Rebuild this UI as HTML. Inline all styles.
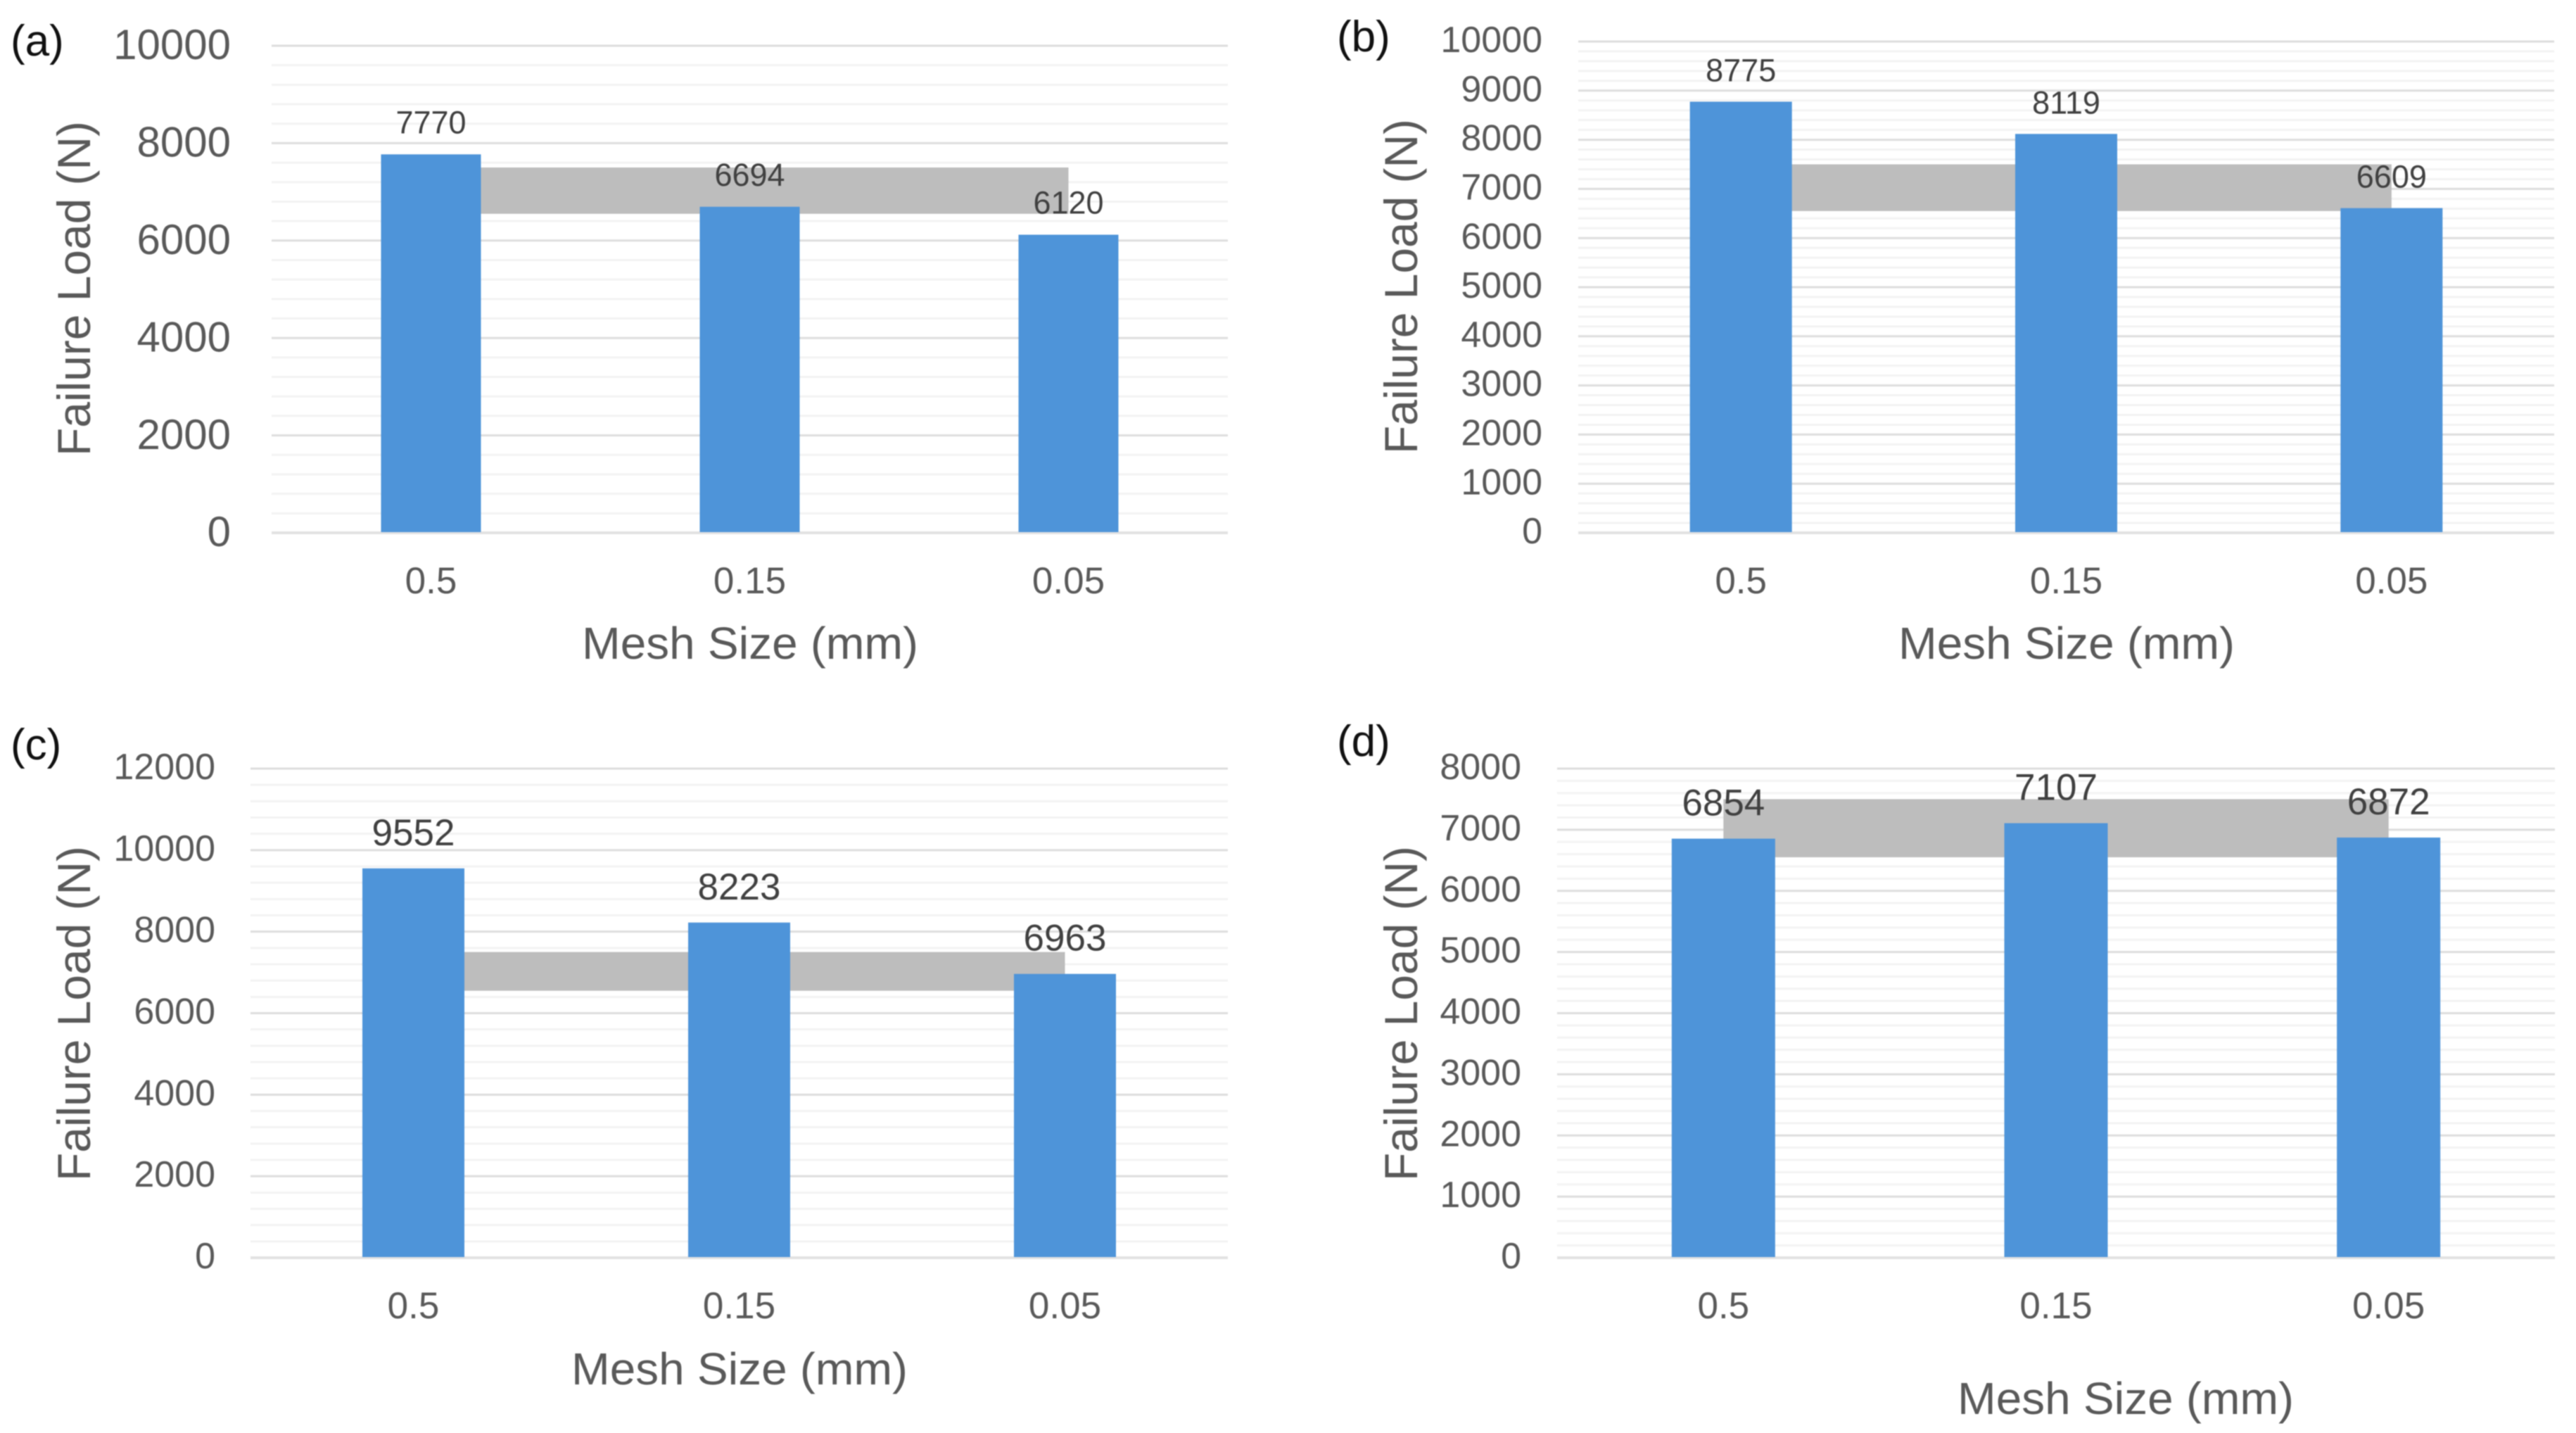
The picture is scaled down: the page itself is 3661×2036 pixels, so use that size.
<!DOCTYPE html>
<html lang="en">
<head>
<meta charset="utf-8">
<title>Failure Load vs Mesh Size</title>
<style>
  html, body { margin: 0; padding: 0; background: #ffffff; }
  #figure { display: block; width: 3661px; height: 2036px; filter: blur(0.7px); }
  text { font-family: "Liberation Sans", Arial, sans-serif; }
</style>
</head>
<body>
<svg id="figure" xmlns="http://www.w3.org/2000/svg" width="3661" height="2036" viewBox="0 0 3661 2036"></svg>
<script>
// ---- Data ----
const categories = ['0.5', '0.15', '0.05'];
const failureLoadA = [7770, 6694, 6120];
const failureLoadB = [8775, 8119, 6609];
const failureLoadC = [9552, 8223, 6963];
const failureLoadD = [6854, 7107, 6872];
const tickLabelsA = ['0', '2000', '4000', '6000', '8000', '10000'];
const tickLabelsB = ['0', '1000', '2000', '3000', '4000', '5000', '6000', '7000', '8000', '9000', '10000'];
const tickLabelsC = ['0', '2000', '4000', '6000', '8000', '10000', '12000'];
const tickLabelsD = ['0', '1000', '2000', '3000', '4000', '5000', '6000', '7000', '8000'];
const referenceBand = [6550, 7500];
const minorDivisions = 5;
const xAxisTitle = 'Mesh Size (mm)';
const yAxisTitle = 'Failure Load (N)';

// ---- Layout (no data here) ----
const panels = [
  { id: 'a', letter: '(a)', values: failureLoadA, ticks: tickLabelsA,
    left: 386, right: 1745, top: 65, bottom: 757, barWidth: 142,
    tickRight: 328, tickSize: 60, tickShift: 0.32, catSize: 53, catBase: 843, valueSize: 45, valueGap: 30,
    letterX: 15, letterY: 79, xTitleX: 1066, xTitleY: 936, yTitleX: 128, yTitleY: 410 },
  { id: 'b', letter: '(b)', values: failureLoadB, ticks: tickLabelsB,
    left: 2243, right: 3630, top: 59, bottom: 757, barWidth: 145,
    tickRight: 2192, tickSize: 52, tickShift: 0.29, catSize: 53, catBase: 843, valueSize: 45, valueGap: 29,
    letterX: 1900, letterY: 73, xTitleX: 2937, xTitleY: 936, yTitleX: 2014, yTitleY: 407 },
  { id: 'c', letter: '(c)', values: failureLoadC, ticks: tickLabelsC,
    left: 356, right: 1745, top: 1092, bottom: 1787, barWidth: 145,
    tickRight: 306, tickSize: 52, tickShift: 0.29, catSize: 53, catBase: 1873, valueSize: 53, valueGap: 33,
    letterX: 15, letterY: 1079, xTitleX: 1051, xTitleY: 1967, yTitleX: 128, yTitleY: 1440 },
  { id: 'd', letter: '(d)', values: failureLoadD, ticks: tickLabelsD,
    left: 2213, right: 3631, top: 1092, bottom: 1787, barWidth: 147,
    tickRight: 2162, tickSize: 52, tickShift: 0.29, catSize: 53, catBase: 1873, valueSize: 53, valueGap: 33,
    letterX: 1900, letterY: 1074, xTitleX: 3021, xTitleY: 2009, yTitleX: 2014, yTitleY: 1440 }
];

const SVG_NS = 'http://www.w3.org/2000/svg';
const root = document.getElementById('figure');

function make(tag, parent, attrs, content) {
  const node = document.createElementNS(SVG_NS, tag);
  for (const key in attrs) node.setAttribute(key, attrs[key]);
  if (content !== undefined) node.textContent = content;
  parent.appendChild(node);
  return node;
}

panels.forEach(function (p) {
  const tickValues = p.ticks.map(Number);
  const maxValue = tickValues[tickValues.length - 1];
  const yScale = function (v) { return p.bottom - (v / maxValue) * (p.bottom - p.top); };
  const band = (p.right - p.left) / categories.length;
  const xScale = function (i) { return p.left + band * (i + 0.5); };

  const group = make('g', root, {});
  
  

  // Minor gridlines
  for (let t = 0; t < tickValues.length - 1; t++) {
    for (let m = 1; m < minorDivisions; m++) {
      const v = tickValues[t] + (tickValues[t + 1] - tickValues[t]) * m / minorDivisions;
      const minor = make('line', group, { x1: p.left, x2: p.right, y1: yScale(v), y2: yScale(v), stroke: '#f3f3f3', 'stroke-width': 3 });
      
      
    }
  }

  // Major gridlines and y tick labels
  tickValues.forEach(function (v, i) {
    const y = yScale(v);
    const major = make('line', group, { x1: p.left, x2: p.right, y1: y, y2: y, stroke: v === 0 ? '#e2e2e2' : '#dddddd', 'stroke-width': v === 0 ? 4 : 3 });
    
    
    const tick = make('text', group, { x: p.tickRight, y: y + p.tickSize * p.tickShift, 'text-anchor': 'end', 'font-size': p.tickSize, fill: '#595959' }, p.ticks[i]);
    
    
  });

  // Reference band spanning first to last category centre
  const bandRect = make('rect', group, {
    x: xScale(0),
    y: yScale(referenceBand[1]),
    width: xScale(categories.length - 1) - xScale(0),
    height: yScale(referenceBand[0]) - yScale(referenceBand[1]),
    fill: '#bdbdbd'
  });
  
  

  // Bars
  p.values.forEach(function (v, i) {
    const bar = make('rect', group, {
      x: xScale(i) - p.barWidth / 2,
      y: yScale(v),
      width: p.barWidth,
      height: p.bottom - yScale(v) - 1,
      fill: '#4e94d9'
    });
    
    
  });

  // Data labels and category labels
  p.values.forEach(function (v, i) {
    const label = make('text', group, { x: xScale(i), y: yScale(v) - p.valueGap, 'text-anchor': 'middle', 'font-size': p.valueSize, fill: '#404040' }, String(v));
    
    
    const cat = make('text', group, { x: xScale(i), y: p.catBase, 'text-anchor': 'middle', 'font-size': p.catSize, fill: '#595959' }, categories[i]);
    
    
  });

  // Axis titles
  const xTitle = make('text', group, { x: p.xTitleX, y: p.xTitleY, 'text-anchor': 'middle', 'font-size': 64, fill: '#595959', textLength: 478, lengthAdjust: 'spacingAndGlyphs' }, xAxisTitle);
  
  

  const yTitle = make('text', group, { x: p.yTitleX, y: p.yTitleY, 'text-anchor': 'middle', 'font-size': 66, fill: '#595959', textLength: 476, lengthAdjust: 'spacingAndGlyphs', transform: 'rotate(-90 ' + p.yTitleX + ' ' + p.yTitleY + ')' }, yAxisTitle);
  
  

  // Panel letter
  const letter = make('text', group, { x: p.letterX, y: p.letterY, 'font-size': 62, fill: '#111111' }, p.letter);
  
  
});
</script>
</body>
</html>
